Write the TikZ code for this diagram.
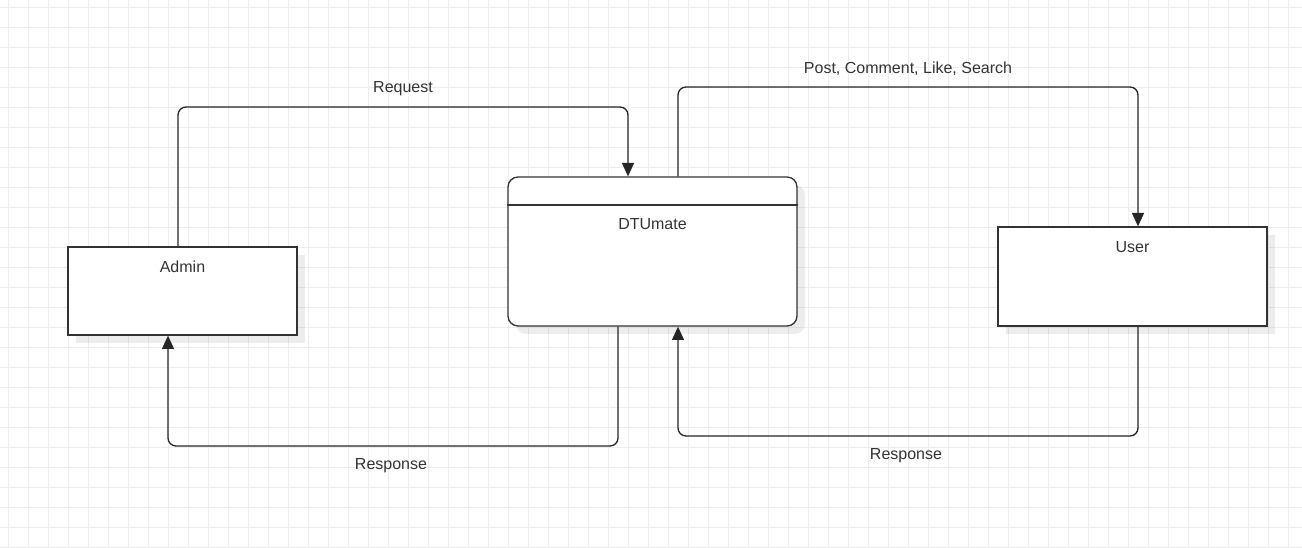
\documentclass[tikz,border=0pt]{standalone}
\usepackage{fontspec}
\setmainfont{Liberation Sans}
\usetikzlibrary{arrows.meta,shadows}
\definecolor{gridc}{HTML}{EDEDED}
\definecolor{ink}{HTML}{333333}
\tikzset{
  box/.style={draw=ink, line width=1pt, fill=white, inner sep=0pt,
    drop shadow={shadow xshift=6pt, shadow yshift=-6pt, fill=black, opacity=0.07}},
  txt/.style={text=ink, font=\fontsize{12pt}{14pt}\selectfont, inner sep=1pt},
  conn/.style={draw=black!85, line width=1pt, rounded corners=6pt,
    -{Triangle[length=10pt,width=9pt]}},
}
\begin{document}
\begin{tikzpicture}[x=0.75pt,y=-0.75pt]
\useasboundingbox (0,0) rectangle (1302,548);
\fill[white] (0,0) rectangle (1302,548);
% grid
\foreach \gx in {8,28,...,1300} \draw[gridc, line width=0.75pt] (\gx,0) -- (\gx,548);
\foreach \gy in {7.5,27.5,...,548} \draw[gridc, line width=0.75pt] (0,\gy) -- (1302,\gy);
% boxes
\node[box, minimum width=171.75pt, minimum height=66pt] (admin) at (182.5,291) {};
\node[box, rounded corners=7.5pt, minimum width=216.75pt, minimum height=111.75pt] (dtu) at (652.5,251.5) {};
\draw[ink, line width=1pt] (dtu.west |- 0,205) -- (dtu.east |- 0,205);
\node[box, minimum width=201.75pt, minimum height=74.25pt] (user) at (1132.5,276.5) {};
% box texts
\node[txt] (admintxt) at (182.5,266.5) {Admin};
\node[txt] (dtutxt) at (652.5,224.5) {DTUmate};
\node[txt] (usertxt) at (1132.5,247) {User};
% connectors
\draw[conn] (178,0 |- admin.north) -- (178,107) -- (628,107) -- (628,0 |- dtu.north);
\draw[conn] (678,0 |- dtu.north) -- (678,87) -- (1138,87) -- (1138,0 |- user.north);
\draw[conn] (618,0 |- dtu.south) -- (618,446) -- (168,446) -- (168,0 |- admin.south);
\draw[conn] (1138,0 |- user.south) -- (1138,436) -- (678,436) -- (678,0 |- dtu.south);
% labels
\node[txt] (lreq) at (403,88.5) {Request};
\node[txt] (lpost) at (908,68.5) {Post, Comment, Like, Search};
\node[txt] (lresp1) at (391,465.5) {Response};
\node[txt] (lresp2) at (906,455.5) {Response};
\end{tikzpicture}
\end{document}
